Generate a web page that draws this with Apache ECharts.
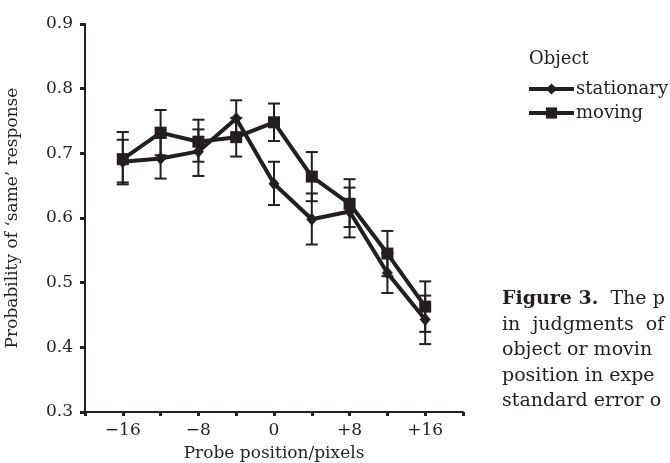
<!DOCTYPE html>
<html>
<head>
<meta charset="utf-8">
<script src="https://cdn.jsdelivr.net/npm/echarts@6/dist/echarts.min.js"></script>
<style>
  html, body { margin: 0; padding: 0; background: #fff; }
  #container { width: 670px; height: 463px; }
</style>
</head>
<body>
<div id="container"></div>
<script>
// probe positions (pixels)
var positions = [-16, -12, -8, -4, 0, 4, 8, 12, 16];

// stationary object: mean and error bar ends
var stationaryMean = [0.687, 0.692, 0.703, 0.754, 0.653, 0.598, 0.610, 0.515, 0.443];
var stationaryLow  = [0.652, 0.661, 0.665, 0.726, 0.620, 0.559, 0.570, 0.484, 0.405];
var stationaryHigh = [0.721, 0.724, 0.737, 0.782, 0.687, 0.638, 0.647, 0.546, 0.480];

// moving object: mean and error bar ends
var movingMean = [0.691, 0.732, 0.718, 0.725, 0.748, 0.664, 0.622, 0.545, 0.463];
var movingLow  = [0.655, 0.697, 0.687, 0.695, 0.719, 0.626, 0.586, 0.510, 0.424];
var movingHigh = [0.733, 0.767, 0.752, 0.755, 0.777, 0.702, 0.660, 0.580, 0.502];

var xTickLabels = { '-16': '\u221216', '-8': '\u22128', '0': '0', '8': '+8', '16': '+16' };

var ink = '#231f20';
var serif = '"DejaVu Serif", "Liberation Serif", serif';
var fs = 17;       // axis text
var legendFs = 18;
var capFs = 19;    // caption

function pairs(ys) {
  return positions.map(function (x, i) { return [x, ys[i]]; });
}
function bars(lo, hi) {
  return positions.map(function (x, i) { return [x, lo[i], hi[i]]; });
}

function errorBar(params, api) {
  var top = api.coord([api.value(0), api.value(2)]);
  var bot = api.coord([api.value(0), api.value(1)]);
  var w = 6;
  var style = { stroke: ink, lineWidth: 2 };
  return {
    type: 'group',
    children: [
      { type: 'line', shape: { x1: top[0], y1: top[1], x2: bot[0], y2: bot[1] }, style: style },
      { type: 'line', shape: { x1: top[0] - w, y1: top[1], x2: top[0] + w, y2: top[1] }, style: style },
      { type: 'line', shape: { x1: bot[0] - w, y1: bot[1], x2: bot[0] + w, y2: bot[1] }, style: style }
    ]
  };
}

var myChart = echarts.init(document.getElementById('container'), null, { renderer: 'canvas' });

var capFont = capFs + 'px ' + serif;

var option = {
  backgroundColor: '#fff',
  animation: false,
  textStyle: { fontFamily: serif, color: ink },
  grid: { left: 85, right: 207, top: 24, bottom: 51, containLabel: false, outerBoundsMode: 'none' },
  legend: {
    data: ['stationary', 'moving'],
    orient: 'vertical',
    left: 522,
    top: 75,
    itemWidth: 45,
    itemHeight: 14,
    itemGap: 6,
    lineStyle: { width: 4 },
    textStyle: { fontFamily: serif, fontSize: legendFs, color: ink, padding: [0, 0, 0, -3] }
  },
  xAxis: {
    type: 'value',
    min: -20,
    max: 20,
    interval: 4,
    name: 'Probe position/pixels',
    nameLocation: 'middle',
    nameGap: 33,
    nameTextStyle: { fontFamily: serif, fontSize: fs, color: ink },
    axisLine: { onZero: false, lineStyle: { color: ink, width: 2 } },
    axisTick: { length: 4, lineStyle: { color: ink, width: 3 } },
    axisLabel: {
      fontFamily: serif, fontSize: fs, color: ink, margin: 10,
      formatter: function (v) { return xTickLabels[String(v)] || ''; }
    },
    splitLine: { show: false }
  },
  yAxis: {
    type: 'value',
    min: 0.3,
    max: 0.9,
    interval: 0.1,
    name: 'Probability of \u2018same\u2019 response',
    nameLocation: 'middle',
    nameGap: 64,
    nameTextStyle: { fontFamily: serif, fontSize: fs, color: ink },
    axisLine: { show: true, onZero: false, lineStyle: { color: ink, width: 2 } },
    axisTick: { show: true, length: 5, lineStyle: { color: ink, width: 3 } },
    axisLabel: {
      fontFamily: serif, fontSize: fs, color: ink, margin: 12,
      formatter: function (v) { return v.toFixed(1); }
    },
    splitLine: { show: false }
  },
  graphic: [
    { type: 'text', left: 529, top: 50, style: { text: 'Object', font: legendFs + 'px ' + serif, fill: ink } },
    { type: 'text', left: 502, top: 290, style: { rich: { b: { fontWeight: 'bold', fontSize: capFs, fontFamily: serif, fill: ink } }, text: '{b|Figure 3.}  The p', font: capFont, fill: ink } },
    { type: 'text', left: 502, top: 316, style: { text: 'in  judgments  of', font: capFont, fill: ink } },
    { type: 'text', left: 502, top: 341, style: { text: 'object or movin', font: capFont, fill: ink } },
    { type: 'text', left: 502, top: 367, style: { text: 'position in expe', font: capFont, fill: ink } },
    { type: 'text', left: 502, top: 392, style: { text: 'standard error o', font: capFont, fill: ink } }
  ],
  series: [
    { name: 'stationaryErr', type: 'custom', renderItem: errorBar, data: bars(stationaryLow, stationaryHigh), z: 1, silent: true },
    { name: 'movingErr', type: 'custom', renderItem: errorBar, data: bars(movingLow, movingHigh), z: 1, silent: true },
    {
      name: 'stationary', type: 'line', data: pairs(stationaryMean),
      symbol: 'diamond', symbolSize: [11, 13],
      lineStyle: { color: ink, width: 4 }, itemStyle: { color: ink },
      z: 3
    },
    {
      name: 'moving', type: 'line', data: pairs(movingMean),
      symbol: 'rect', symbolSize: 12,
      lineStyle: { color: ink, width: 4 }, itemStyle: { color: ink },
      z: 3
    }
  ]
};

if (option && typeof option === 'object') {
  myChart.setOption(option);
}
window.addEventListener('resize', myChart.resize);
</script>
</body>
</html>
